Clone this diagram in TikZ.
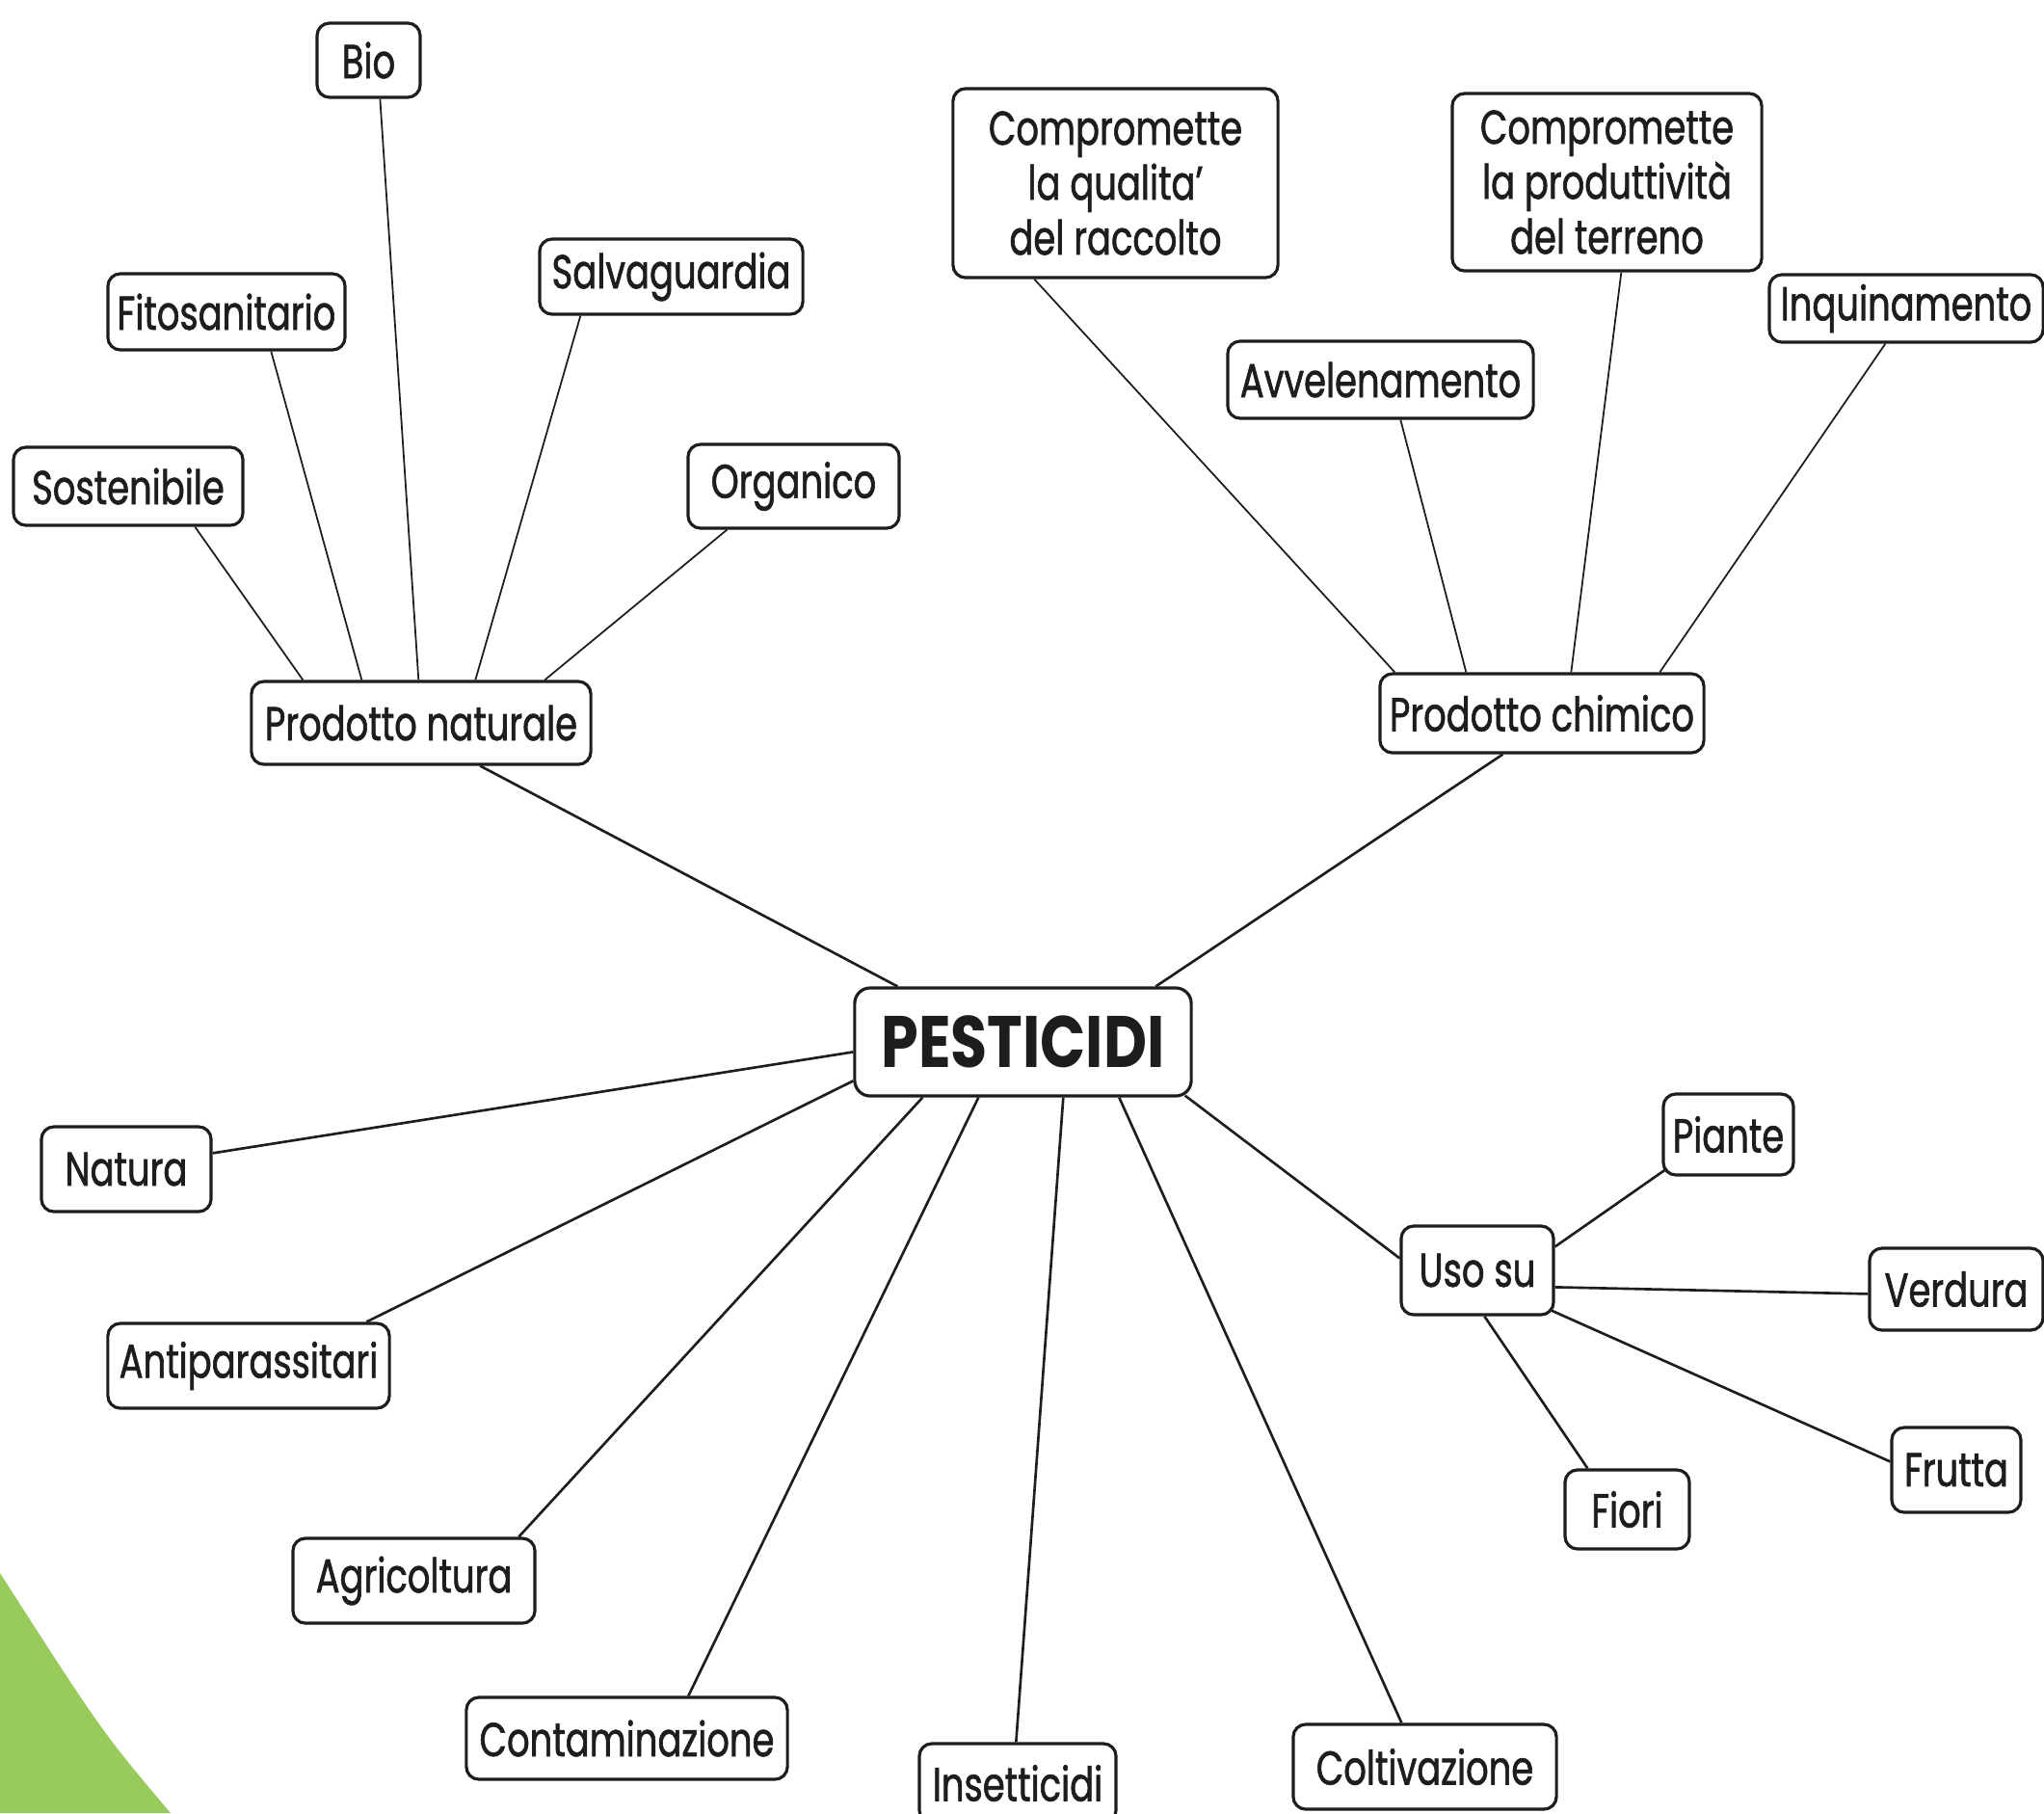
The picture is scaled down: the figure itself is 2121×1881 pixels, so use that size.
\documentclass[tikz,border=0pt]{standalone}
\usepackage{fontspec}
\setmainfont{Poppins}[FakeStretch=0.75,FakeBold=1.2]
\newfontfamily\pestfont{Poppins}[FakeStretch=0.82]
\usetikzlibrary{calc}
\definecolor{leaf}{RGB}{153,202,92}
\definecolor{ink}{RGB}{29,29,27}
\begin{document}
\begin{tikzpicture}[x=0.01cm,y=-0.01cm,
  box/.style={draw=ink, line width=0.9pt, rounded corners=0.13cm, fill=white,
    align=center, inner sep=0pt, text=ink, font=\fontsize{14}{16.2}\selectfont},
  thinlink/.style={draw=ink, line width=0.5pt},
  link/.style={draw=ink, line width=0.75pt}]
\clip (0,0) rectangle (2121,1881);
\fill[leaf] (0,1632) .. controls (106,1797) .. (177,1881) -- (0,1881) -- cycle;

% left upper cluster
\node[box, minimum width=1.07cm, minimum height=0.77cm] (bio) at (382.5,62.5) {Bio};
\node[box, minimum width=2.46cm, minimum height=0.79cm] (fito) at (235,323.5) {Fitosanitario};
\node[box, minimum width=2.73cm, minimum height=0.78cm] (salv) at (696.5,287) {Salvaguardia};
\node[box, minimum width=2.38cm, minimum height=0.81cm] (sost) at (133,504.5) {Sostenibile};
\node[box, minimum width=2.19cm, minimum height=0.87cm] (org) at (823.5,504.5) {Organico};
\node[box, minimum width=3.52cm, minimum height=0.86cm] (pn) at (437,750) {Prodotto naturale};

% right upper cluster
\node[box, minimum width=3.37cm, minimum height=1.96cm] (cq) at (1157.5,190) {Compromette\\la qualita’\\del raccolto};
\node[box, minimum width=3.21cm, minimum height=1.84cm] (cp) at (1667.5,189) {Compromette\\la produttività\\del terreno};
\node[box, minimum width=2.84cm, minimum height=0.70cm] (inq) at (1978,320) {Inquinamento};
\node[box, minimum width=3.17cm, minimum height=0.80cm] (avv) at (1432.5,394) {Avvelenamento};
\node[box, minimum width=3.36cm, minimum height=0.82cm] (pc) at (1600,740) {Prodotto chimico};

% centre
\node[box, rounded corners=0.16cm, minimum width=3.49cm, minimum height=1.12cm,
  font=\pestfont\bfseries\fontsize{21.5}{24}\selectfont] (pest) at (1061.5,1081) {PESTICIDI};

% lower
\node[box, minimum width=1.76cm, minimum height=0.88cm] (nat) at (131,1213) {Natura};
\node[box, minimum width=2.92cm, minimum height=0.88cm] (anti) at (258,1417) {Antiparassitari};
\node[box, minimum width=2.51cm, minimum height=0.88cm] (agri) at (429.5,1640) {Agricoltura};
\node[box, minimum width=3.33cm, minimum height=0.85cm] (cont) at (650.5,1803.5) {Contaminazione};
\node[box, minimum width=2.04cm, minimum height=0.82cm] (ins) at (1056,1850) {Insetticidi};
\node[box, minimum width=2.73cm, minimum height=0.88cm] (colt) at (1478.5,1833) {Coltivazione};
\node[box, minimum width=1.58cm, minimum height=0.92cm] (uso) at (1533,1318) {Uso su};
\node[box, minimum width=1.35cm, minimum height=0.84cm] (piante) at (1793.5,1177) {Piante};
\node[box, minimum width=1.80cm, minimum height=0.85cm] (verdura) at (2030,1337.5) {Verdura};
\node[box, minimum width=1.34cm, minimum height=0.88cm] (frutta) at (2030,1525) {Frutta};
\node[box, minimum width=1.29cm, minimum height=0.82cm] (fiori) at (1688.5,1566) {Fiori};

% connectors: prodotto naturale
\draw[thinlink] ($(sost.south west)+(190,0)$) -- ($(pn.north west)+(55,0)$);
\draw[thinlink] ($(fito.south west)+(171,0)$) -- ($(pn.north west)+(116,0)$);
\draw[thinlink] ($(bio.south west)+(67,0)$) -- ($(pn.north west)+(175,0)$);
\draw[thinlink] ($(salv.south west)+(44,0)$) -- ($(pn.north west)+(234,0)$);
\draw[thinlink] ($(org.south west)+(42,0)$) -- ($(pn.north west)+(306,0)$);
\draw[link] ($(pn.south west)+(239,0)$) -- ($(pest.north west)+(46,0)$);

% connectors: prodotto chimico
\draw[thinlink] ($(cq.south west)+(86,0)$) -- ($(pc.north west)+(17,0)$);
\draw[thinlink] ($(avv.south west)+(181,0)$) -- ($(pc.north west)+(91,0)$);
\draw[thinlink] ($(cp.south west)+(177,0)$) -- ($(pc.north west)+(200,0)$);
\draw[thinlink] ($(inq.south west)+(122,0)$) -- ($(pc.north west)+(292,0)$);
\draw[link] ($(pc.south west)+(129,0)$) -- ($(pest.north west)+(314,0)$);

% connectors: pesticidi
\draw[link] ($(pest.north west)+(0,68)$) -- ($(nat.north east)+(0,29)$);
\draw[link] ($(pest.north west)+(0,98)$) -- ($(anti.north west)+(270,0)$);
\draw[link] ($(pest.south west)+(72,0)$) -- ($(agri.north west)+(236,0)$);
\draw[link] ($(pest.south west)+(130,0)$) -- ($(cont.north west)+(232,0)$);
\draw[link] ($(pest.south west)+(218,0)$) -- ($(ins.north west)+(102,0)$);
\draw[link] ($(pest.south west)+(276,0)$) -- ($(colt.north west)+(114,0)$);
\draw[link] ($(pest.south east)+(-8,-2)$) -- ($(uso.north west)+(0,35)$);

% connectors: uso su
\draw[link] ($(uso.north east)+(0,23)$) -- ($(piante.south west)+(5,-8)$);
\draw[link] ($(uso.north east)+(0,65)$) -- ($(verdura.north west)+(0,49)$);
\draw[link] ($(uso.south east)+(-6,-7)$) -- ($(frutta.north west)+(0,37)$);
\draw[link] ($(uso.south west)+(88,0)$) -- ($(fiori.north west)+(25,0)$);
\end{tikzpicture}
\end{document}
